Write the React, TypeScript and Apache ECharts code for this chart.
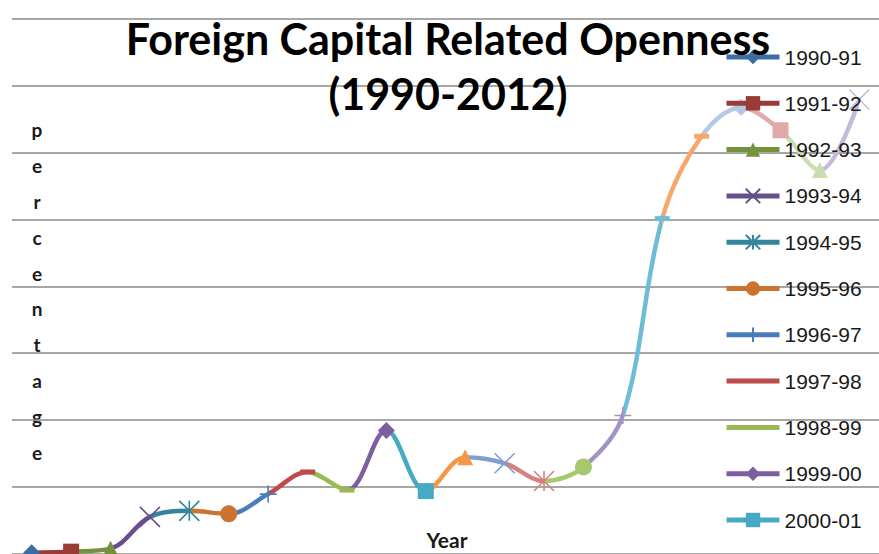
import React, { useEffect, useRef } from "react";
import * as echarts from "echarts";

const categories = [
  "1990-91", "1991-92", "1992-93", "1993-94", "1994-95", "1995-96",
  "1996-97", "1997-98", "1998-99", "1999-00", "2000-01", "2001-02",
  "2002-03", "2003-04", "2004-05", "2005-06", "2006-07", "2007-08",
  "2008-09", "2009-10", "2010-11", "2011-12",
];

const openness = [
  0.04, 0.07, 0.16, 1.11, 1.29, 1.2, 1.79, 2.45, 1.91, 3.69, 1.88,
  2.89, 2.71, 2.18, 2.6, 4.14, 10.02, 12.48, 13.34, 12.66, 11.47, 13.58,
];

const pointColors = [
  "#3D6BA3", "#9A3B38", "#76923C", "#664F8C", "#31869B", "#CB7431",
  "#4A7EBB", "#BE4B48", "#98B954", "#7D5FA0", "#46AAC5", "#F79646",
  "#7F9FD0", "#D7817F", "#A6C86E", "#A393C4", "#6DBDD6", "#F9A66B",
  "#B4C9E6", "#E0AAA9", "#CCDDB0", "#C4BADB",
];

const markerKinds = [
  "diamond", "square", "triangle", "x", "star", "circle",
  "plus", "dash", "dash", "diamond", "square", "triangle",
  "x", "star", "circle", "plus", "dash", "dash",
  "diamond", "square", "triangle", "x",
];

const yMin = 0;
const yMax = 16;
const yInterval = 2;

const titleLines = ["Foreign Capital Related Openness", "(1990-2012)"];
const yAxisTitle = "percentage";
const xAxisTitle = "Year";

function markerStyle(kind: string, color: string) {
  const strokeOnly = { color, borderColor: color, borderWidth: 1.6 };
  const filled = { color, borderWidth: 0 };
  switch (kind) {
    case "diamond":
      return { symbol: "diamond", symbolSize: 17, itemStyle: filled };
    case "square":
      return { symbol: "rect", symbolSize: 16, itemStyle: filled };
    case "triangle":
      return { symbol: "triangle", symbolSize: 16, itemStyle: filled };
    case "circle":
      return { symbol: "circle", symbolSize: 17, itemStyle: filled };
    case "x":
      return { symbol: "path://M0,0L10,10M10,0L0,10", symbolSize: 20, itemStyle: strokeOnly };
    case "star":
      return { symbol: "path://M0,0L10,10M10,0L0,10M5,0L5,10", symbolSize: 20, itemStyle: strokeOnly };
    case "plus":
      return { symbol: "path://M5,0L5,10M0,5L10,5", symbolSize: 17, itemStyle: strokeOnly };
    default:
      return { symbol: "path://M0,0L14,0L14,4L0,4Z", symbolSize: [15, 5], itemStyle: filled };
  }
}

export default function App() {
  const ref = useRef<HTMLDivElement>(null);

  useEffect(() => {
    if (!ref.current) return;
    const chart = echarts.init(ref.current, null, { renderer: "svg" });

    const pieces = categories.map((_, i) =>
      i === 0 ? { lte: 0, color: pointColors[0] } : { gt: i - 1, lte: i, color: pointColors[i] }
    );

    const markerSeries = categories.map((name, i) => {
      const m = markerStyle(markerKinds[i], pointColors[i]);
      return {
        type: "line",
        name,
        data: openness.map((v, j) => (j === i ? v : null)),
        symbol: m.symbol,
        symbolSize: m.symbolSize,
        itemStyle: m.itemStyle,
        lineStyle: { color: pointColors[i], width: 5 },
        showAllSymbol: true,
        showSymbol: true,
        z: 3,
        silent: true,
      };
    });

    const legendData = categories.map((name, i) =>
      markerKinds[i] === "dash"
        ? { name, icon: "path://M0,0L53,0L53,5L0,5Z" }
        : { name }
    );

    chart.setOption({
      animation: false,
      backgroundColor: "#ffffff",
      title: {
        text: titleLines.join("\n"),
        left: 448,
        top: 11,
        padding: 0,
        textAlign: "center",
        textStyle: {
          fontFamily: "Lato",
          fontWeight: "bold",
          fontSize: 43,
          lineHeight: 55,
          color: "#000000",
        },
      },
      legend: {
        orient: "vertical",
        left: 724,
        top: 44,
        padding: 0,
        itemWidth: 53,
        itemHeight: 18,
        itemGap: 20.3,
        selectedMode: false,
        data: legendData,
        lineStyle: { width: 5 },
        textStyle: {
          fontFamily: "Liberation Sans",
          fontSize: 21,
          lineHeight: 26,
          color: "#1a1a1a",
        },
      },
      grid: { left: 12, right: -7, top: 18.5, bottom: -3.4, containLabel: false },
      xAxis: {
        type: "category",
        data: categories,
        boundaryGap: true,
        axisLine: { show: false },
        axisTick: { show: false },
        axisLabel: { show: false },
      },
      yAxis: {
        type: "value",
        min: yMin,
        max: yMax,
        interval: yInterval,
        axisLine: { show: false },
        axisTick: { show: false },
        axisLabel: { show: false },
        splitLine: { lineStyle: { color: "#8a8a8a", width: 1.5 } },
      },
      visualMap: {
        type: "piecewise",
        show: false,
        dimension: 0,
        seriesIndex: 0,
        pieces,
      },
      series: [
        {
          type: "line",
          name: "Openness",
          data: openness,
          smooth: 0.35,
          showSymbol: false,
          lineStyle: { width: 4.5 },
          z: 2,
          silent: true,
        },
        ...markerSeries,
      ],
      graphic: [
        {
          type: "text",
          x: 37,
          y: 112,
          style: {
            text: yAxisTitle.split("").join("\n"),
            fontFamily: "Lato",
            fontWeight: "bold",
            fontSize: 19,
            lineHeight: 35.8,
            textAlign: "center",
            textVerticalAlign: "top",
            fill: "#1a1a1a",
          },
        },
        {
          type: "text",
          x: 447,
          y: 539,
          style: {
            text: xAxisTitle,
            fontFamily: "Lato",
            fontWeight: "bold",
            fontSize: 21,
            textAlign: "center",
            textVerticalAlign: "middle",
            fill: "#1a1a1a",
          },
        },
      ],
    });

    return () => chart.dispose();
  }, []);

  return (
    <div
      ref={ref}
      style={{ position: "fixed", left: 0, top: 0, width: 879, height: 554 }}
    />
  );
}
